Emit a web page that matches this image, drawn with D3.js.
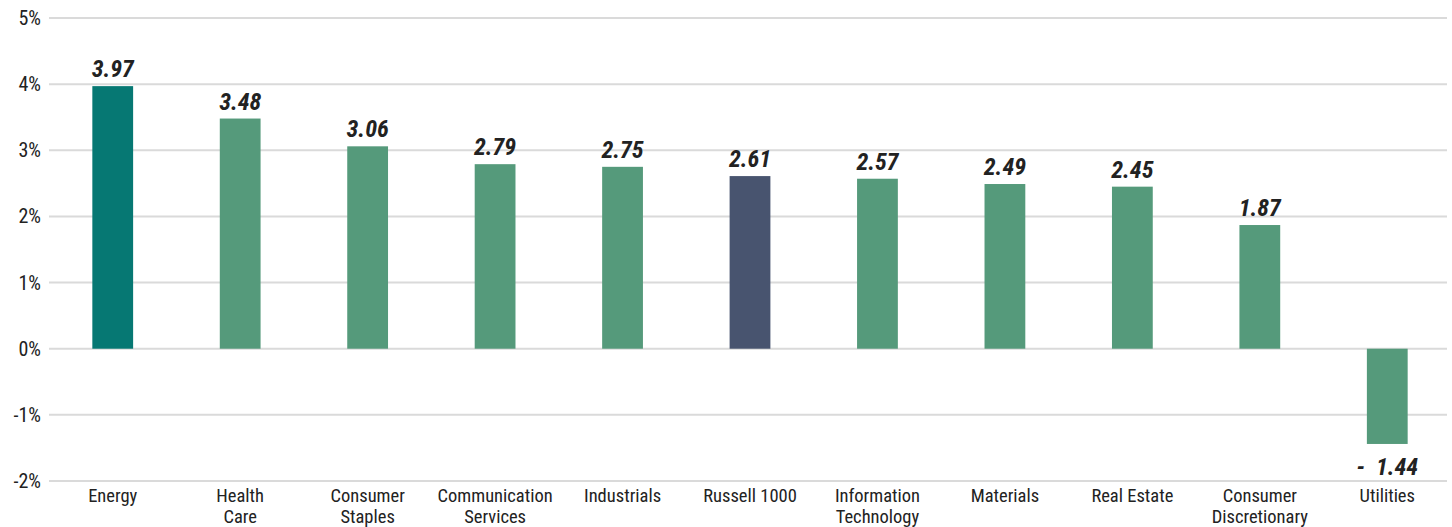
<!DOCTYPE html>
<html>
<head>
<meta charset="utf-8">
<script src="https://cdnjs.cloudflare.com/ajax/libs/d3/7.8.5/d3.min.js"></script>
<style>
  body { margin: 0; background: #fff; }
  text { font-family: "Roboto Condensed", "Liberation Sans Narrow", Arial, sans-serif; fill: #222; }
</style>
</head>
<body>
<script>
var categories = ['Energy', 'Health Care', 'Consumer Staples', 'Communication Services', 'Industrials',
                  'Russell 1000', 'Information Technology', 'Materials', 'Real Estate',
                  'Consumer Discretionary', 'Utilities'];
var labelLines = [['Energy'], ['Health', 'Care'], ['Consumer', 'Staples'], ['Communication', 'Services'],
                  ['Industrials'], ['Russell 1000'], ['Information', 'Technology'], ['Materials'],
                  ['Real Estate'], ['Consumer', 'Discretionary'], ['Utilities']];
var values = [3.97, 3.48, 3.06, 2.79, 2.75, 2.61, 2.57, 2.49, 2.45, 1.87, -1.44];
var yTicks = [-2, -1, 0, 1, 2, 3, 4, 5];

var w = 1452, h = 527;

var svg = d3.select('body').append('svg')
  .attr('width', w)
  .attr('height', h);

var x = d3.scaleBand()
  .domain(categories)
  .range([49, 1451])
  .paddingInner(0.68)
  .paddingOuter(0.34);

var y = d3.scaleLinear()
  .domain([-2, 5])
  .range([481, 18]);

// gridlines
svg.selectAll('.grid')
  .data(yTicks)
  .enter()
  .append('line')
    .attr('x1', 49)
    .attr('x2', 1447)
    .attr('y1', function(d) { return y(d) })
    .attr('y2', function(d) { return y(d) })
    .attr('stroke', '#dadada')
    .attr('stroke-width', 2);

// y labels
svg.selectAll('.ylab')
  .data(yTicks)
  .enter()
  .append('text')
    .attr('x', 41)
    .attr('y', function(d) { return y(d) + 7 })
    .attr('text-anchor', 'end')
    .attr('font-size', 20)
    .text(function(d) { return d + '%' });

var colour = function(c) {
  if (c === 'Energy') return '#067873';
  if (c === 'Russell 1000') return '#48546f';
  return '#559a7b';
};

svg.selectAll('rect')
  .data(values)
  .enter()
  .append('rect')
    .attr('x', function(d, i) { return x(categories[i]) })
    .attr('width', x.bandwidth())
    .attr('y', function(d) { return d >= 0 ? y(d) : y(0) })
    .attr('height', function(d) { return Math.abs(y(d) - y(0)) })
    .attr('fill', function(d, i) { return colour(categories[i]) });

// value labels
svg.selectAll('.val')
  .data(values)
  .enter()
  .append('text')
    .attr('x', function(d, i) { return x(categories[i]) + x.bandwidth() / 2 })
    .attr('y', function(d) { return d >= 0 ? y(d) - 9 : y(d) + 31 })
    .attr('text-anchor', 'middle')
    .attr('font-size', 24)
    .attr('font-weight', 'bold')
    .attr('font-style', 'italic')
    .attr('xml:space', 'preserve')
    .text(function(d) { return d >= 0 ? d.toFixed(2) : '-  ' + Math.abs(d).toFixed(2) });

// category labels
var cat = svg.selectAll('.cat')
  .data(labelLines)
  .enter()
  .append('text')
    .attr('text-anchor', 'middle')
    .attr('font-size', 18.5)
    .attr('transform', function(d, i) {
      return 'translate(' + (x(categories[i]) + x.bandwidth() / 2) + ',502)';
    });

cat.selectAll('tspan')
  .data(function(d) { return d })
  .enter()
  .append('tspan')
    .attr('x', 0)
    .attr('dy', function(d, i) { return i === 0 ? 0 : 21 })
    .text(function(d) { return d });
</script>
</body>
</html>
